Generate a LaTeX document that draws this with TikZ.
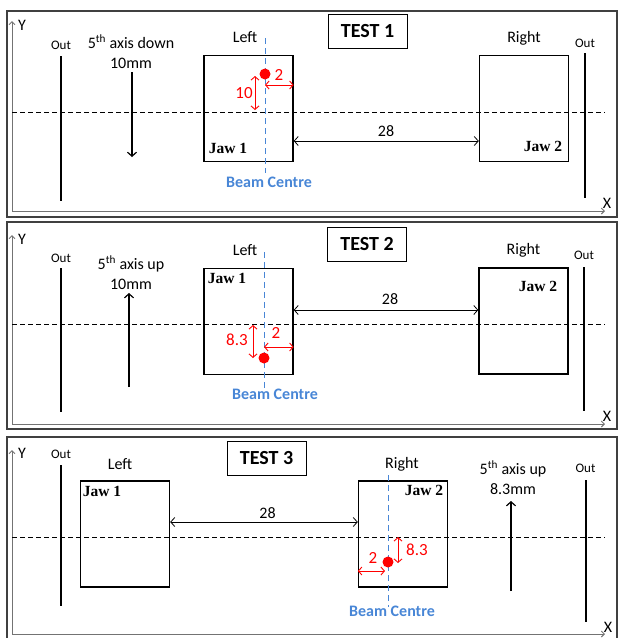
\documentclass[tikz,border=0pt]{standalone}
\usepackage{fontspec}
\setmainfont{Carlito}
\newfontfamily\jawfont{Liberation Serif}
\usetikzlibrary{arrows.meta}
\definecolor{beamblue}{RGB}{72,134,214}

\begin{document}
\begin{tikzpicture}[
  x=1pt,y=-1pt,
  >={Straight Barb[length=4pt,width=9pt]},
  every node/.style={font=\fontsize{16}{20}\selectfont},
  panelframe/.style={draw=black!75,line width=1.4pt},
  axisln/.style={draw=black!55,line width=1pt,<->,>={Straight Barb[length=3pt,width=6pt]}},
  outbar/.style={draw,line width=2.4pt},
  outlbl/.style={font=\fontsize{13}{15}\selectfont},
  jawbox/.style={draw,line width=1.4pt,minimum width=89pt,minimum height=106pt,inner sep=0pt},
  jawlbl/.style={font=\jawfont\bfseries\fontsize{15.5}{18}\selectfont,inner sep=0pt},
  testbox/.style={draw,line width=1pt,font=\bfseries\fontsize{20}{24}\selectfont,
    minimum width=79pt,minimum height=34pt},
  midline/.style={draw,line width=0.8pt,dash pattern=on 5pt off 3pt},
  beamln/.style={draw=beamblue,line width=1pt,dash pattern=on 6pt off 4pt},
  beamlbl/.style={text=beamblue,font=\bfseries\fontsize{16}{20}\selectfont},
  dot/.style={circle,fill=red,minimum size=11pt,inner sep=0pt},
  reddim/.style={red,line width=0.9pt,<->,>={Straight Barb[length=3.5pt,width=8pt]}},
  redlbl/.style={text=red,font=\fontsize{17}{20}\selectfont},
  blkdim/.style={line width=0.8pt,<->},
  shiftarr/.style={line width=1.2pt,->}]

\useasboundingbox (0,0) rectangle (618,638);

% ---- panel (1): 5th axis down ----
\begin{scope}
  \draw[panelframe] (7,11) rectangle (617,217);
  \coordinate (ytop1) at (12,21);
  \coordinate (org1)  at (12,211);
  \coordinate (xend1) at (605,211);
  \draw[axisln] (ytop1) -- (org1) -- (xend1);
  \node (ylab1) at (22,25) {Y};
  \node (xlab1) at (607,203) {X};
  \coordinate (ml1a) at (12,112);
  \coordinate (ml1b) at (605,112);
  \draw[midline] (ml1a) -- (ml1b);

  \node[outlbl] (outA1) at (61,45) {Out};
  \coordinate (oa1) at (61,56);
  \coordinate (ob1) at (61,201);
  \draw[outbar] (oa1) -- (ob1);
  \node[align=center] (move1) at (131,52) {5\textsuperscript{th} axis down\\10mm};
  \coordinate (sa1) at (132,72);
  \coordinate (sb1) at (132,157);
  \draw[shiftarr] (sa1) -- (sb1);

  \node (left1) at (245,37) {Left};
  \node[jawbox] (jA1) at (248.5,108.5) {};
  \node[jawlbl] (jA1t) at (228,148) {Jaw 1};
  \coordinate (bt1) at (265,38);
  \coordinate (bb1) at (265,173);
  \draw[beamln] (bt1) -- (bb1);
  \node[beamlbl] (blab1) at (269,182) {Beam Centre};
  \node[dot] (bc1) at (265,74) {};
  \coordinate (h1) at (265,85);
  \draw[reddim] (h1) -- (h1 -| jA1.east);
  \node[redlbl] (two1) at (279,75) {2};
  \coordinate (v1a) at (255,76);
  \coordinate (v1b) at (255,110);
  \draw[reddim] (v1a) -- (v1b);
  \node[redlbl] (ten1) at (244,93) {10};

  \node[testbox] (test1) at (367.5,31) {TEST 1};
  \node (right1) at (524,38) {Right};
  \node[jawbox] (jB1) at (524,108.5) {};
  \node[jawlbl] (jB1t) at (543,146) {Jaw 2};
  \node[outlbl] (outB1) at (585,43) {Out};
  \coordinate (oc1) at (585,53);
  \coordinate (od1) at (585,198);
  \draw[outbar] (oc1) -- (od1);

  \coordinate (g1) at (380,141);
  \draw[blkdim] (jA1.east |- g1) -- (jB1.west |- g1);
  \node (gap1) at (386,131) {28};
\end{scope}

% ---- panel (2): 5th axis up ----
\begin{scope}[shift={(0,215)}]
  \draw[panelframe] (7,7) rectangle (617,214);
  \coordinate (ytop2) at (12,20);
  \coordinate (org2)  at (12,209);
  \coordinate (xend2) at (605,209);
  \draw[axisln] (ytop2) -- (org2) -- (xend2);
  \node (ylab2) at (22,24) {Y};
  \node (xlab2) at (607,201) {X};
  \coordinate (ml2a) at (12,109);
  \coordinate (ml2b) at (605,109);
  \draw[midline] (ml2a) -- (ml2b);

  \node[outlbl] (outA2) at (61,43) {Out};
  \coordinate (oa2) at (61,53);
  \coordinate (ob2) at (61,197);
  \draw[outbar] (oa2) -- (ob2);
  \node[align=center] (move2) at (131,58) {5\textsuperscript{th} axis up\\10mm};
  \coordinate (sa2) at (129,172);
  \coordinate (sb2) at (129,78);
  \draw[shiftarr] (sa2) -- (sb2);

  \node (left2) at (245,35) {Left};
  \node[jawbox] (jA2) at (248.5,106.5) {};
  \node[jawlbl] (jA2t) at (227,63) {Jaw 1};
  \coordinate (bt2) at (264,37);
  \coordinate (bb2) at (264,177);
  \draw[beamln] (bt2) -- (bb2);
  \node[beamlbl] (blab2) at (275,179) {Beam Centre};
  \node[dot] (bc2) at (264,143) {};
  \coordinate (h2) at (264,132);
  \draw[reddim] (h2) -- (h2 -| jA2.east);
  \node[redlbl] (two2) at (276,118) {2};
  \coordinate (v2a) at (253,110);
  \coordinate (v2b) at (253,143);
  \draw[reddim] (v2a) -- (v2b);
  \node[redlbl] (ten2) at (237,125) {8.3};

  \node[testbox] (test2) at (367,29) {TEST 2};
  \node (right2) at (523.5,35) {Right};
  \node[jawbox] (jB2) at (523.5,106) {};
  \node[jawlbl] (jB2t) at (538,71) {Jaw 2};
  \node[outlbl] (outB2) at (584,40) {Out};
  \coordinate (oc2) at (584,52);
  \coordinate (od2) at (584,196);
  \draw[outbar] (oc2) -- (od2);

  \coordinate (g2) at (380,95);
  \draw[blkdim] (jA2.east |- g2) -- (jB2.west |- g2);
  \node (gap2) at (390,84) {28};
\end{scope}

% ---- panel (3): jaw 2 on the beam ----
\begin{scope}[shift={(0,430)}]
  \draw[panelframe] (7,208) -- (7,7) -- (617,7) -- (617,208);
  \coordinate (ytop3) at (12,20);
  \coordinate (org3)  at (12,204);
  \coordinate (xend3) at (605,204);
  \draw[axisln] (ytop3) -- (org3) -- (xend3);
  \node (ylab3) at (22,23) {Y};
  \node (xlab3) at (608,197) {X};
  \coordinate (ml3a) at (12,107);
  \coordinate (ml3b) at (605,107);
  \draw[midline] (ml3a) -- (ml3b);

  \node[outlbl] (outA3) at (61,24) {Out};
  \coordinate (oa3) at (61,35);
  \coordinate (ob3) at (61,176);
  \draw[outbar] (oa3) -- (ob3);

  \node (left3) at (120,34) {Left};
  \node[jawbox] (jA3) at (125,104) {};
  \node[jawlbl] (jA3t) at (102,61) {Jaw 1};
  \node[testbox] (test3) at (266.5,28.5) {TEST 3};

  \node (right3) at (402,34) {Right};
  \node[jawbox] (jB3) at (403,104) {};
  \node[jawlbl] (jB3t) at (424,60) {Jaw 2};
  \coordinate (bt3) at (388,45);
  \coordinate (bb3) at (388,177);
  \draw[beamln] (bt3) -- (bb3);
  \node[beamlbl] (blab3) at (392,181) {Beam Centre};
  \node[dot] (bc3) at (388,132) {};
  \coordinate (h3) at (385,141);
  \draw[reddim] (jB3.west |- h3) -- (h3);
  \node[redlbl] (two3) at (373,128) {2};
  \coordinate (v3a) at (398,107);
  \coordinate (v3b) at (398,133);
  \draw[reddim] (v3a) -- (v3b);
  \node[redlbl] (ten3) at (417,120) {8.3};

  \coordinate (g3) at (260,92);
  \draw[blkdim] (jA3.east |- g3) -- (jB3.west |- g3);
  \node (gap3) at (267.5,83) {28};

  \node[align=center] (move3) at (513,47.5) {5\textsuperscript{th} axis up\\8.3mm};
  \coordinate (sa3) at (511,161);
  \coordinate (sb3) at (511,71);
  \draw[shiftarr] (sa3) -- (sb3);
  \node[outlbl] (outB3) at (585.5,38) {Out};
  \coordinate (oc3) at (586,50);
  \coordinate (od3) at (586,192);
  \draw[outbar] (oc3) -- (od3);
\end{scope}
\end{tikzpicture}
\end{document}
